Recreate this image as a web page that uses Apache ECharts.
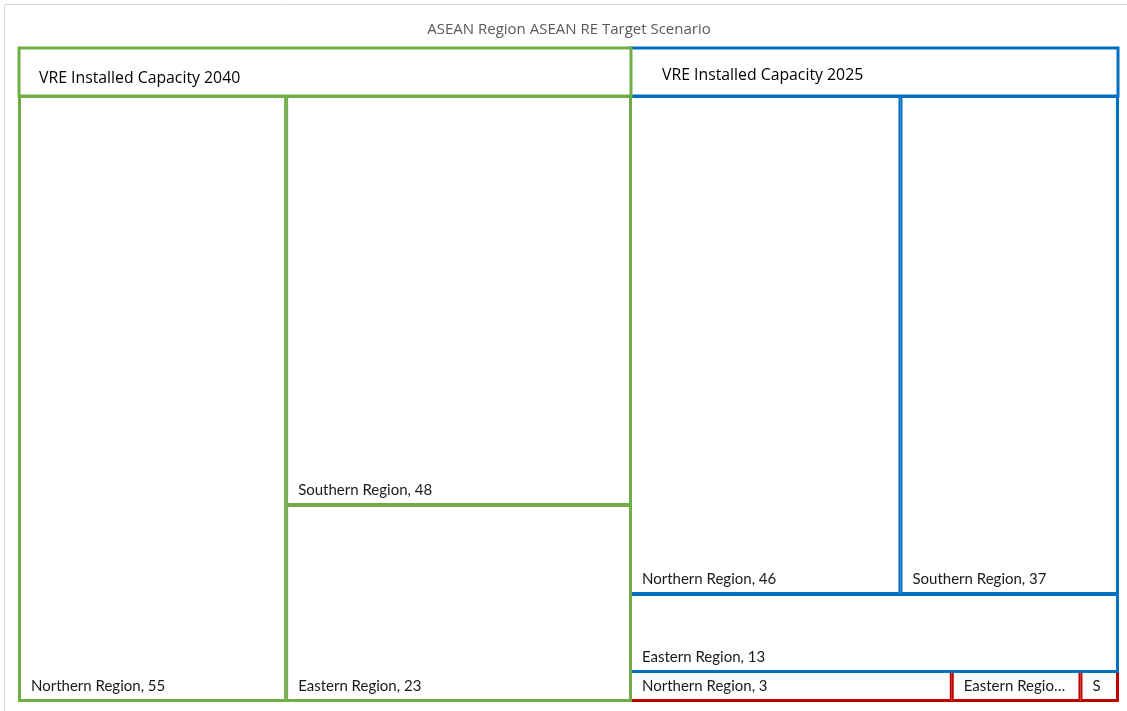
<!DOCTYPE html>
<html>
<head>
<meta charset="utf-8">
<script src="https://cdn.jsdelivr.net/npm/echarts@6/dist/echarts.min.js"></script>
<style>
  html, body { margin: 0; padding: 0; background: #fff; }
  #chart { width: 1127px; height: 711px; }
</style>
</head>
<body>
<div id="chart"></div>
<script>
// ---- data -------------------------------------------------------------
const chartTitle = 'ASEAN Region ASEAN RE Target Scenario';
const groupNames = ['VRE Installed Capacity 2040', 'VRE Installed Capacity 2025', 'VRE Installed Capacity 2020'];

const regions2040 = ['Northern Region', 'Southern Region', 'Eastern Region'];
const capacity2040 = [55, 48, 23];

const regions2025 = ['Northern Region', 'Southern Region', 'Eastern Region'];
const capacity2025 = [46, 37, 13];

const regions2020 = ['Northern Region', 'Eastern Region', 'Southern Region'];
const capacity2020 = [3, 1.2, 0.35];

// ---- styling ----------------------------------------------------------
const groupColors = ['#70AD47', '#0070C0', '#C00000'];
const OUTER = 1;           // frame drawn by the series root
const CELL = 2;            // border of every region cell (outer edge = OUTER + CELL)
const EDGE = OUTER + CELL;
const HEADER = 48;         // height of a group's header strip

// outer frame of the tree map (outer edges of its outline)
const frame = { x0: 18, x1: 1119, y0: 47, y1: 702 };

const sum = a => a.reduce((s, v) => s + v, 0);
const groupTotals = [sum(capacity2040), sum(capacity2025), sum(capacity2020)];
const grandTotal = sum(groupTotals);

// the largest group takes a full-height column, the other two share the rest
const cx0 = frame.x0 + EDGE / 2, cx1 = frame.x1 - EDGE / 2;
const cy0 = frame.y0 + EDGE / 2, cy1 = frame.y1 - EDGE / 2;
const splitX = Math.round(cx0 + (cx1 - cx0) * groupTotals[0] / grandTotal);
const splitY = Math.round(cy0 + (cy1 - cy0) * groupTotals[1] / (groupTotals[1] + groupTotals[2]));

// neighbouring groups overlap by one outline so that they share it
const h = Math.floor(EDGE / 2);
const boxes = [
  { l: frame.x0,         t: frame.y0,        r: splitX + EDGE - h, b: frame.y1 },
  { l: splitX - h,       t: frame.y0,        r: frame.x1,          b: splitY + EDGE - h },
  { l: splitX - h,       t: splitY - h,      r: frame.x1,          b: frame.y1 }
];

const leafLabel = {
  show: true,
  position: 'insideBottomLeft',
  distance: 0,
  padding: [0, 8, 5, 10],
  fontFamily: 'Lato',
  fontSize: 15,
  color: '#1a1a1a',
  overflow: 'truncate',
  ellipsis: '\u2026',
  formatter: p => p.name + ', ' + Math.round(p.value)
};

function groupSeries(idx, regions, values, opts) {
  const box = boxes[idx];
  const color = groupColors[idx];
  // the group cell itself is white; its outline comes from the series frame
  // (outer edge) and from the header box (header strip)
  const groupLevel = {
    itemStyle: { borderWidth: 0, borderColor: '#fff', gapWidth: 0, color: '#fff' }
  };
  if (opts.header) {
    groupLevel.upperLabel = {
      show: true,
      height: HEADER,
      position: 'insideTopLeft',
      verticalAlign: 'top',
      align: 'left',
      distance: 0,
      padding: [opts.headerTop, 0, 0, opts.headerLeft],
      backgroundColor: 'rgba(255,255,255,0)',
      borderColor: color,
      borderWidth: 1.5,
      color: '#000',
      fontFamily: 'Open Sans',
      fontSize: 15.8
    };
  } else {
    groupLevel.upperLabel = { show: false };
  }
  return {
    type: 'treemap',
    name: groupNames[idx],
    z: 10 - idx,
    left: box.l,
    top: box.t,
    width: box.r - box.l,
    height: box.b - box.t,
    squareRatio: opts.ratio,
    roam: false,
    nodeClick: false,
    drillDownIcon: '',
    animation: false,
    breadcrumb: { show: false },
    silent: true,
    levels: [
      { itemStyle: { borderWidth: OUTER, borderColor: color, gapWidth: 0, color: '#fff' } },
      groupLevel,
      { itemStyle: { borderWidth: CELL, borderColor: color, gapWidth: 0, color: '#fff' }, label: leafLabel }
    ],
    data: [{
      name: groupNames[idx],
      children: regions.map((n, i) => ({ name: n, value: values[i] }))
    }]
  };
}

const series = [
  groupSeries(2, regions2020, capacity2020, { header: false, ratio: 1.618 }),
  groupSeries(1, regions2025, capacity2025, { header: true, headerTop: 19, headerLeft: 32, ratio: 1.618 }),
  groupSeries(0, regions2040, capacity2040, { header: true, headerTop: 22, headerLeft: 20, ratio: 0.6 })
];

const chart = echarts.init(document.getElementById('chart'), null, { renderer: 'canvas' });
chart.setOption({
  backgroundColor: '#fff',
  animation: false,
  title: {
    text: chartTitle,
    left: 564,
    top: 17,
    textAlign: 'center',
    textStyle: { color: '#595959', fontSize: 15, fontWeight: 'normal', fontFamily: 'Open Sans' }
  },
  graphic: [{
    type: 'rect',
    silent: true,
    shape: { x: 4.5, y: 4.5, width: 1140, height: 720 },
    style: { fill: 'none', stroke: '#d9d9d9', lineWidth: 1 }
  }],
  series: series
});
</script>
</body>
</html>
